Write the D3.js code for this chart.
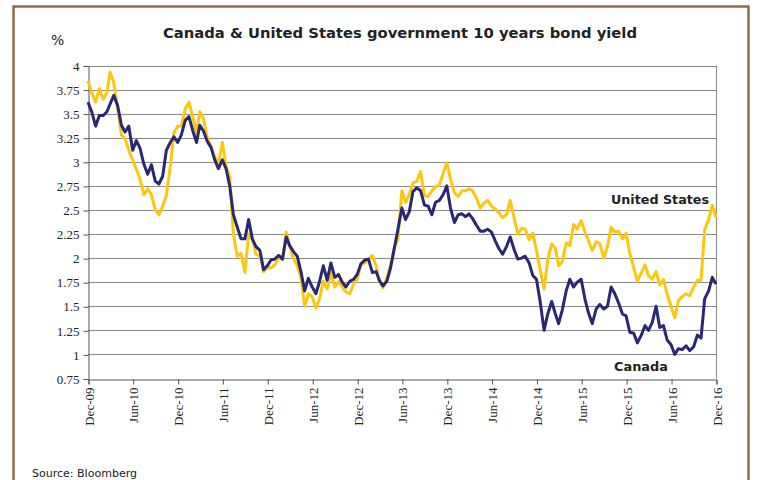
<!DOCTYPE html>
<html>
<head>
<meta charset="utf-8">
<script src="https://cdn.jsdelivr.net/npm/d3@7"></script>
<style>
  body { margin: 0; background: #fff; }
  svg { display: block; }
  .tick text { font-family: 'Liberation Serif', 'Times New Roman', serif; font-size: 13px; fill: #222; }
</style>
</head>
<body>
<svg id="chart" width="758" height="480"></svg>
<script>
// semi-monthly readings, first point Dec-09, last point Dec-16
var usYield = [
  3.84, 3.72, 3.62, 3.76, 3.65, 3.72, 3.93, 3.82, 3.55, 3.28, 3.24, 3.12,
  3.02, 2.92, 2.82, 2.66, 2.72, 2.66, 2.50, 2.45, 2.54, 2.65, 2.95, 3.30,
  3.37, 3.37, 3.55, 3.62, 3.46, 3.30, 3.52, 3.45, 3.25, 3.16, 3.05, 2.98,
  3.20, 2.95, 2.85, 2.25, 2.02, 2.05, 1.85, 2.25, 2.20, 2.04, 2.02, 1.86,
  1.90, 1.90, 1.93, 2.00, 1.99, 2.27, 2.13, 2.00, 1.92, 1.80, 1.50, 1.63,
  1.60, 1.48, 1.58, 1.76, 1.68, 1.85, 1.70, 1.76, 1.70, 1.65, 1.63, 1.73,
  1.78, 1.93, 1.95, 1.99, 2.03, 1.92, 1.77, 1.69, 1.80, 1.93, 2.10, 2.20,
  2.70, 2.58, 2.66, 2.78, 2.80, 2.90, 2.65, 2.64, 2.70, 2.74, 2.76, 2.88,
  2.99, 2.82, 2.68, 2.64, 2.70, 2.70, 2.72, 2.70, 2.62, 2.52, 2.57, 2.60,
  2.54, 2.51, 2.47, 2.42, 2.45, 2.60, 2.42, 2.25, 2.31, 2.30, 2.19, 2.26,
  2.08, 1.88, 1.68, 1.98, 2.15, 2.10, 1.92, 1.96, 2.16, 2.13, 2.35, 2.30,
  2.39, 2.27, 2.18, 2.08, 2.17, 2.15, 2.00, 2.12, 2.32, 2.27, 2.28, 2.20,
  2.26, 2.05, 1.90, 1.76, 1.85, 1.93, 1.82, 1.78, 1.86, 1.72, 1.78, 1.63,
  1.50, 1.38, 1.56, 1.60, 1.63, 1.61, 1.70, 1.77, 1.77, 2.30, 2.40, 2.55,
  2.42
];
var canadaYield = [
  3.62, 3.52, 3.37, 3.48, 3.48, 3.52, 3.60, 3.69, 3.58, 3.38, 3.31, 3.37,
  3.12, 3.22, 3.14, 2.98, 2.87, 2.97, 2.80, 2.77, 2.85, 3.12, 3.20, 3.26,
  3.20, 3.28, 3.43, 3.47, 3.32, 3.20, 3.38, 3.32, 3.21, 3.15, 3.02, 2.93,
  3.02, 2.93, 2.75, 2.45, 2.32, 2.20, 2.20, 2.40, 2.20, 2.12, 2.08, 1.88,
  1.92, 1.98, 1.99, 2.03, 1.99, 2.22, 2.13, 2.07, 2.02, 1.86, 1.66, 1.79,
  1.70, 1.63, 1.76, 1.92, 1.77, 1.95, 1.80, 1.83, 1.75, 1.70, 1.76, 1.78,
  1.83, 1.94, 1.98, 1.99, 1.85, 1.86, 1.77, 1.71, 1.76, 1.90, 2.10, 2.30,
  2.52, 2.40, 2.48, 2.69, 2.73, 2.70, 2.55, 2.54, 2.45, 2.58, 2.60, 2.66,
  2.75, 2.52, 2.37, 2.45, 2.46, 2.43, 2.46, 2.41, 2.34, 2.28, 2.28, 2.30,
  2.27, 2.18, 2.10, 2.04, 2.12, 2.22, 2.09, 1.99, 2.00, 2.02, 1.95, 1.82,
  1.78, 1.55, 1.25, 1.42, 1.55, 1.42, 1.32, 1.46, 1.66, 1.78, 1.70, 1.75,
  1.78, 1.58, 1.43, 1.32, 1.47, 1.52, 1.47, 1.50, 1.70, 1.63, 1.53, 1.42,
  1.40, 1.23, 1.22, 1.12, 1.20, 1.30, 1.25, 1.33, 1.50, 1.28, 1.30, 1.15,
  1.10, 1.00, 1.06, 1.05, 1.09, 1.04, 1.08, 1.20, 1.17, 1.58, 1.66, 1.80,
  1.73
];
var xTickLabels = ['Dec-09', 'Jun-10', 'Dec-10', 'Jun-11', 'Dec-11', 'Jun-12', 'Dec-12',
  'Jun-13', 'Dec-13', 'Jun-14', 'Dec-14', 'Jun-15', 'Dec-15', 'Jun-16', 'Dec-16'];
var yTicks = [0.75, 1, 1.25, 1.5, 1.75, 2, 2.25, 2.5, 2.75, 3, 3.25, 3.5, 3.75, 4];

var svg = d3.select('#chart');
var parseTick = d3.timeParse('%b-%y');
var tickDates = xTickLabels.map(function (s) { return parseTick(s); });

// point i sits on the 1st (even i) or 16th (odd i) of the month
var pointDate = function (i) {
    return new Date(2009, 11 + Math.floor(i / 2), i % 2 ? 16 : 1);
};

var x = d3.scaleTime()
    .domain([tickDates[0], tickDates[tickDates.length - 1]])
    .range([88, 716]);
var y = d3.scaleLinear()
    .domain([0.75, 4])
    .range([378.5, 65.5]);

// outer frame
svg.append('rect')
    .attr('x', 13.5).attr('y', 6.5)
    .attr('width', 735).attr('height', 490)
    .attr('fill', 'none')
    .attr('stroke', '#8c6d47')
    .attr('stroke-width', 2.5);

// gridlines
svg.append('g').selectAll('line')
    .data(yTicks.filter(function (d) { return d > 0.75; }))
    .enter().append('line')
        .attr('x1', x.range()[0]).attr('x2', x.range()[1])
        .attr('y1', function (d) { return Math.round(y(d)) + 0.5; })
        .attr('y2', function (d) { return Math.round(y(d)) + 0.5; })
        .attr('stroke', '#8a8a8a')
        .attr('stroke-width', 1);
svg.append('line')
    .attr('x1', 716.5).attr('x2', 716.5)
    .attr('y1', y(4)).attr('y2', y(0.75))
    .attr('stroke', '#8a8a8a');

// axes
var yAxis = d3.axisLeft(y)
    .tickValues(yTicks)
    .tickSize(5)
    .tickFormat(function (d) { return String(d); });
var gy = svg.append('g')
    .attr('transform', 'translate(88.5,0.5)')
    .call(yAxis);
gy.attr('font-family', null).attr('font-size', null);
gy.selectAll('text').attr('x', -9);

var xAxis = d3.axisBottom(x)
    .tickValues(tickDates)
    .tickSize(5)
    .tickFormat(function (d, i) { return xTickLabels[i]; });
var gx = svg.append('g')
    .attr('transform', 'translate(0.5,' + (Math.round(y(0.75)) + 0.5) + ')')
    .call(xAxis);
gx.attr('font-family', null).attr('font-size', null);
gx.selectAll('text')
    .attr('transform', 'rotate(-90)')
    .attr('text-anchor', 'end')
    .attr('x', -8)
    .attr('y', 0)
    .attr('dy', '0.35em');
[gx, gy].forEach(function (g) {
    g.select('.domain').attr('stroke', '#555');
    g.selectAll('.tick line').attr('stroke', '#555');
});

// series
var line = d3.line()
    .x(function (d, i) { return x(pointDate(i)); })
    .y(function (d) { return y(d); });
svg.append('path')
    .datum(usYield)
    .attr('d', line)
    .attr('fill', 'none')
    .attr('stroke', '#fdc70f')
    .attr('stroke-width', 3)
    .attr('stroke-linejoin', 'round');
svg.append('path')
    .datum(canadaYield)
    .attr('d', line)
    .attr('fill', 'none')
    .attr('stroke', '#2b2873')
    .attr('stroke-width', 3)
    .attr('stroke-linejoin', 'round');

// texts
svg.append('text')
    .attr('x', 400).attr('y', 38)
    .attr('text-anchor', 'middle')
    .attr('font-family', 'DejaVu Sans, sans-serif')
    .attr('font-weight', 'bold')
    .attr('font-size', 14)
    .attr('textLength', 474)
    .attr('lengthAdjust', 'spacingAndGlyphs')
    .attr('fill', '#222')
    .text('Canada & United States government 10 years bond yield');
svg.append('text')
    .attr('x', 51).attr('y', 45)
    .attr('font-family', 'DejaVu Sans, sans-serif')
    .attr('font-size', 14)
    .attr('fill', '#222')
    .text('%');
svg.append('text')
    .attr('x', 709).attr('y', 204)
    .attr('text-anchor', 'end')
    .attr('font-family', 'DejaVu Sans, sans-serif')
    .attr('font-weight', 'bold')
    .attr('font-size', 13)
    .attr('textLength', 98)
    .attr('lengthAdjust', 'spacingAndGlyphs')
    .attr('fill', '#222')
    .text('United States');
svg.append('text')
    .attr('x', 614).attr('y', 371)
    .attr('font-family', 'DejaVu Sans, sans-serif')
    .attr('font-weight', 'bold')
    .attr('font-size', 13)
    .attr('textLength', 54)
    .attr('lengthAdjust', 'spacingAndGlyphs')
    .attr('fill', '#222')
    .text('Canada');
svg.append('text')
    .attr('x', 32).attr('y', 477)
    .attr('font-family', 'DejaVu Sans, sans-serif')
    .attr('font-size', 11)
    .attr('textLength', 105)
    .attr('lengthAdjust', 'spacingAndGlyphs')
    .attr('fill', '#222')
    .text('Source: Bloomberg');
</script>
</body>
</html>
